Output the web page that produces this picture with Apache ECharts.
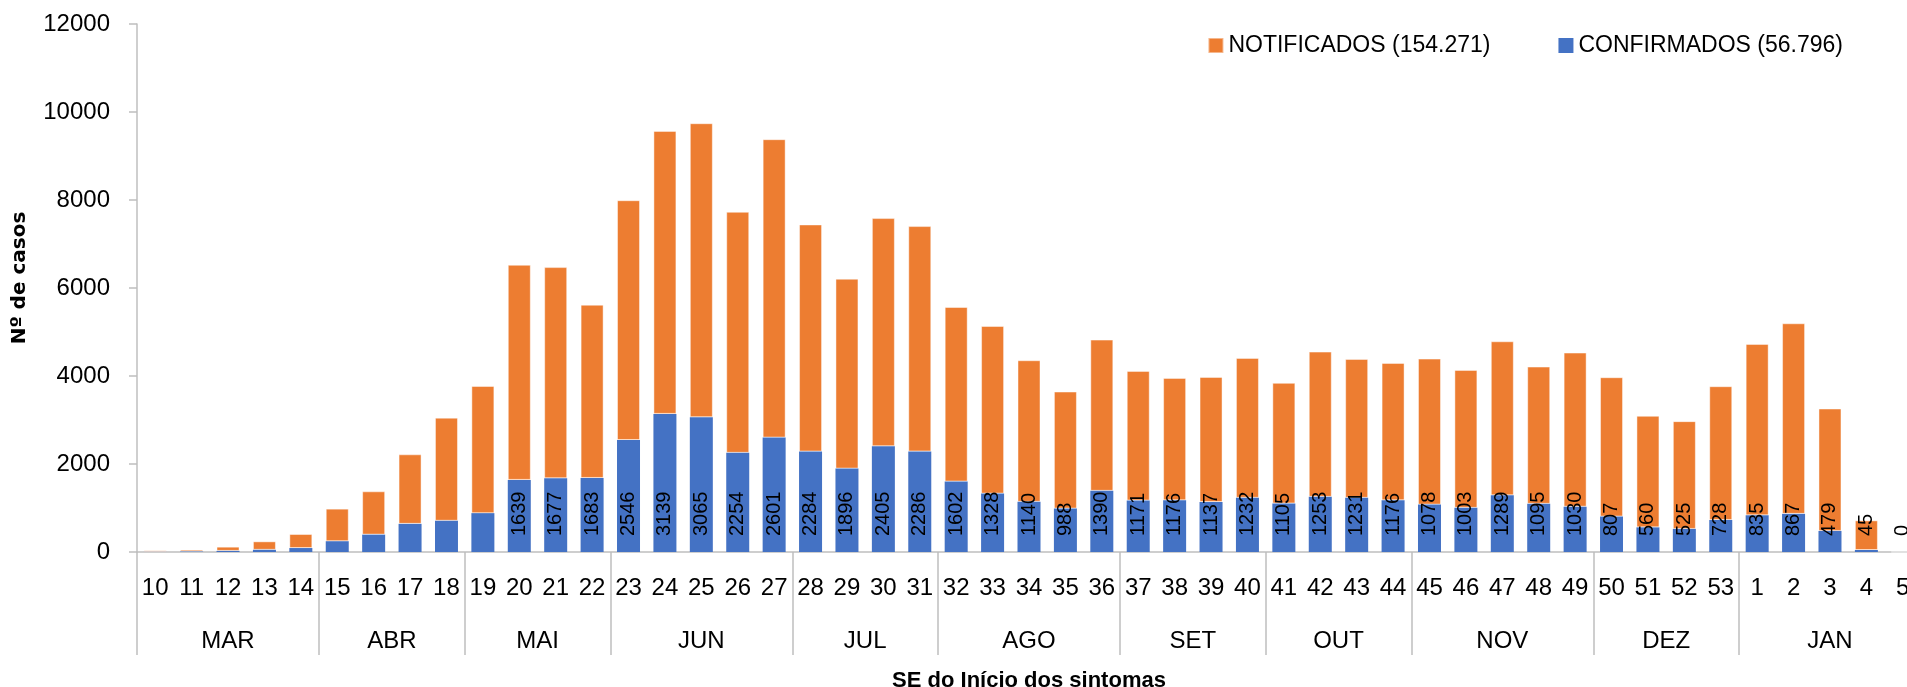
<!DOCTYPE html>
<html>
<head>
<meta charset="utf-8">
<style>
  html, body { margin: 0; padding: 0; background: #fff; }
  #main { width: 1907px; height: 687px; }
</style>
<script src="https://cdn.jsdelivr.net/npm/echarts@6/dist/echarts.min.js"></script>
</head>
<body>
<div id="main"></div>
<script>
// semanas epidemiologicas (SE) 10..53 e 1..5
var weeks = ['10', '11', '12', '13', '14', '15', '16', '17', '18', '19', '20', '21', '22',
  '23', '24', '25', '26', '27', '28', '29', '30', '31', '32', '33', '34', '35', '36',
  '37', '38', '39', '40', '41', '42', '43', '44', '45', '46', '47', '48', '49', '50',
  '51', '52', '53', '1', '2', '3', '4', '5']
var months = ['MAR', 'ABR', 'MAI', 'JUN', 'JUL', 'AGO', 'SET', 'OUT', 'NOV', 'DEZ', 'JAN']
var monthWeeks = [5, 4, 4, 5, 4, 5, 4, 4, 5, 4, 5]

var confirmados = [3, 10, 25, 50, 90, 245, 395, 640, 710, 883, 1639, 1677, 1683,
  2546, 3139, 3065, 2254, 2601, 2284, 1896, 2405, 2286, 1602, 1328, 1140, 988, 1390,
  1171, 1176, 1137, 1232, 1105, 1253, 1231, 1176, 1078, 1003, 1289, 1095, 1030, 807,
  560, 525, 728, 835, 867, 479, 45, 0]
var notificados = [35, 43, 96, 192, 319, 740, 984, 1580, 2343, 2890, 4889, 4798, 3937,
  5449, 6431, 6680, 5478, 6781, 5160, 4315, 5184, 5121, 3966, 3809, 3218, 2659, 3437,
  2945, 2781, 2842, 3179, 2739, 3301, 3157, 3121, 3317, 3135, 3500, 3119, 3502, 3165,
  2535, 2449, 3040, 3894, 4331, 2782, 674, 0]
var firstLabeled = 10 // rotulos a partir da SE 20

var yTicks = { min: 0, max: 12000, interval: 2000 }

// eixo dos meses: pontos em meia-semana (0..98)
var halfSlots = []
for (var i = 0; i <= weeks.length * 2; i++) halfSlots.push(String(i))
var monthLabelAt = {}
var monthEdge = { 0: true }
var acc = 0
months.forEach(function (m, k) {
  monthLabelAt[acc + monthWeeks[k]] = m
  acc += monthWeeks[k] * 2
  monthEdge[acc] = true
})

var font = "'Liberation Sans', Arial, sans-serif"
var gray = '#bfbfbf'
var orange = '#ED7D31'
var blue = '#4472C4'

var myChart = echarts.init(document.getElementById('main'))
myChart.setOption({
  animation: false,
  legend: {
    data: ['NOTIFICADOS (154.271)', 'CONFIRMADOS (56.796)'],
    right: 64,
    top: 34,
    padding: 0,
    icon: 'rect',
    itemWidth: 15,
    itemHeight: 15,
    itemGap: 68,
    textStyle: { fontFamily: font, fontSize: 23, color: '#000' }
  },
  grid: { left: 137, right: -14, top: 24, bottom: 135, containLabel: false, outerBoundsMode: 'none' },
  xAxis: [{
    type: 'category',
    data: weeks,
    position: 'bottom',
    name: 'SE do Início dos sintomas',
    nameLocation: 'middle',
    nameGap: 118,
    nameTextStyle: { fontFamily: font, fontSize: 22, fontWeight: 'bold', color: '#000' },
    axisLine: { lineStyle: { color: gray, width: 1.5 } },
    axisTick: { interval: 0, length: 51, lineStyle: { color: gray, width: 1.5 } },
    axisLabel: { interval: 0, margin: 24, fontFamily: font, fontSize: 24, color: '#000' }
  }, {
    type: 'category',
    data: halfSlots,
    position: 'bottom',
    boundaryGap: false,
    axisLine: { show: false },
    axisTick: {
      length: 103,
      interval: function (idx) { return !!monthEdge[idx] },
      lineStyle: { color: gray, width: 1.5 }
    },
    axisLabel: {
      interval: 0,
      margin: 77,
      fontFamily: font,
      fontSize: 24,
      color: '#000',
      formatter: function (v, idx) { return monthLabelAt[idx] || '' }
    }
  }],
  yAxis: {
    type: 'value',
    min: yTicks.min,
    max: yTicks.max,
    interval: yTicks.interval,
    name: 'Nº de casos',
    nameLocation: 'middle',
    nameGap: 107,
    nameTextStyle: {
      fontFamily: "'DejaVu Sans', sans-serif",
      fontSize: 20,
      fontWeight: 'bold',
      color: '#000',
      padding: [0, 0, 0, 20]
    },
    axisLine: { show: true, lineStyle: { color: gray, width: 1.5 } },
    axisTick: { show: true, length: 8, lineStyle: { color: gray, width: 1.5 } },
    splitLine: { show: false },
    axisLabel: {
      margin: 27,
      fontFamily: font,
      fontSize: 24,
      color: '#000',
      formatter: function (v) { return String(v) }
    }
  },
  series: [{
    name: 'CONFIRMADOS (56.796)',
    type: 'bar',
    stack: 'total',
    barWidth: 23,
    z: 3,
    itemStyle: { color: blue },
    data: confirmados.map(function (v, i) {
      return i < firstLabeled ? { value: v, label: { show: false } } : v
    }),
    label: {
      show: true,
      position: 'insideBottom',
      distance: 16,
      rotate: 90,
      align: 'left',
      verticalAlign: 'middle',
      fontFamily: font,
      fontSize: 20,
      color: '#000'
    }
  }, {
    name: 'NOTIFICADOS (154.271)',
    type: 'bar',
    stack: 'total',
    barWidth: 23,
    z: 2,
    data: notificados,
    itemStyle: { color: orange, borderColor: 'rgba(255,255,255,0.45)', borderWidth: 1 }
  }]
})
</script>
</body>
</html>
